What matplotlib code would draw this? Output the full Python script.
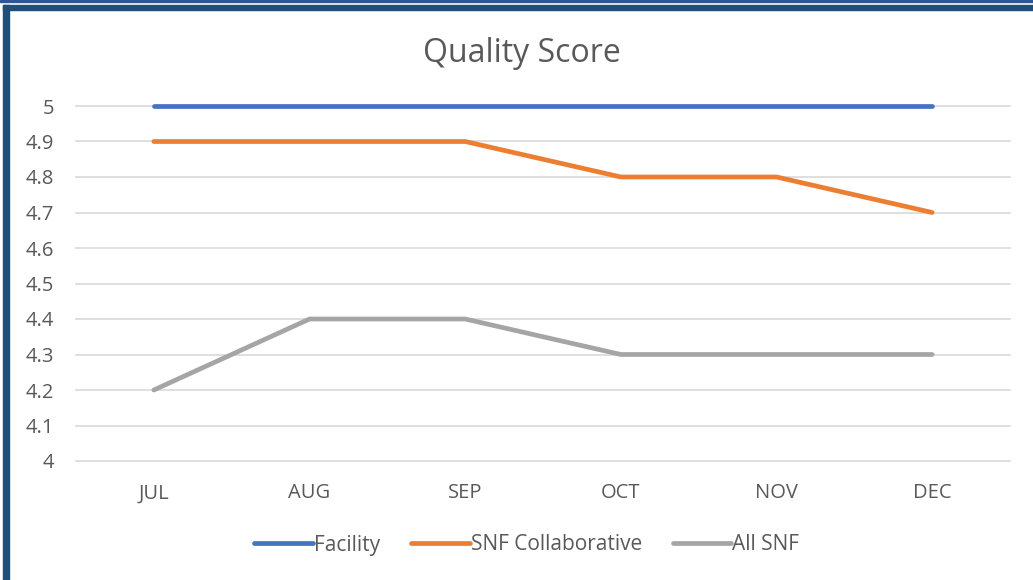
import matplotlib.pyplot as plt
from matplotlib.patches import Rectangle

months = ['JUL', 'AUG', 'SEP', 'OCT', 'NOV', 'DEC']
facility = [5.0, 5.0, 5.0, 5.0, 5.0, 5.0]
snf_collab = [4.9, 4.9, 4.9, 4.8, 4.8, 4.7]
all_snf = [4.2, 4.4, 4.4, 4.3, 4.3, 4.3]
yticks = [4, 4.1, 4.2, 4.3, 4.4, 4.5, 4.6, 4.7, 4.8, 4.9, 5]

plt.rcParams['font.family'] = ['Open Sans', 'DejaVu Sans']
text_col = '#595959'

W, H = 1033, 580
fig = plt.figure(figsize=(W / 100, H / 100), dpi=100)
ax = fig.add_axes([76 / W, 1 - 461 / H, (1010 - 76) / W, (461 - 106) / H])

x = range(len(months))
series = [(facility, '#4472C4', 'Facility'),
          (snf_collab, '#ED7D31', 'SNF Collaborative'),
          (all_snf, '#A5A5A5', 'All SNF')]
for vals, col, lab in series:
    ax.plot(x, vals, color=col, lw=3.4, solid_capstyle='round', label=lab,
            clip_on=False, zorder=3)

ax.set_xlim(-0.5, len(months) - 0.5)
ax.set_ylim(4, 5)
ax.set_yticks(yticks)
ax.set_yticklabels(['{:g}'.format(v) for v in yticks])
ax.set_xticks(list(x))
ax.set_xticklabels(months)
ax.grid(axis='y', color='#D9D9D9', lw=1.2)
for gl in ax.get_ygridlines():
    gl.set_clip_on(False)
ax.set_axisbelow(True)
for s in ax.spines.values():
    s.set_visible(False)
ax.tick_params(length=0, labelsize=14.5, colors=text_col)
ax.tick_params(axis='y', pad=16)
ax.tick_params(axis='x', pad=16)

fig.text(522 / W, 1 - 54 / H, 'Quality Score', ha='center', va='center',
         fontsize=23, color=text_col)

fig.legend(loc='center', bbox_to_anchor=(527 / W, 1 - 545 / H), ncol=3,
           frameon=False, fontsize=15, labelcolor=text_col,
           handlelength=2.8, handletextpad=0.05, columnspacing=1.5)

# outer frame
frame = '#1F4E79'
fig.patches.append(Rectangle((0, 1 - 2 / H), 1, 2 / H, transform=fig.transFigure,
                             color='#2F5597', zorder=5))
fig.patches.append(Rectangle((3 / W, 1 - 10 / H), 1, 5 / H, transform=fig.transFigure,
                             color=frame, zorder=5))
fig.patches.append(Rectangle((3 / W, 0), 6 / W, 1 - 5 / H, transform=fig.transFigure,
                             color=frame, zorder=5))

fig.savefig('out.png', dpi=100)
